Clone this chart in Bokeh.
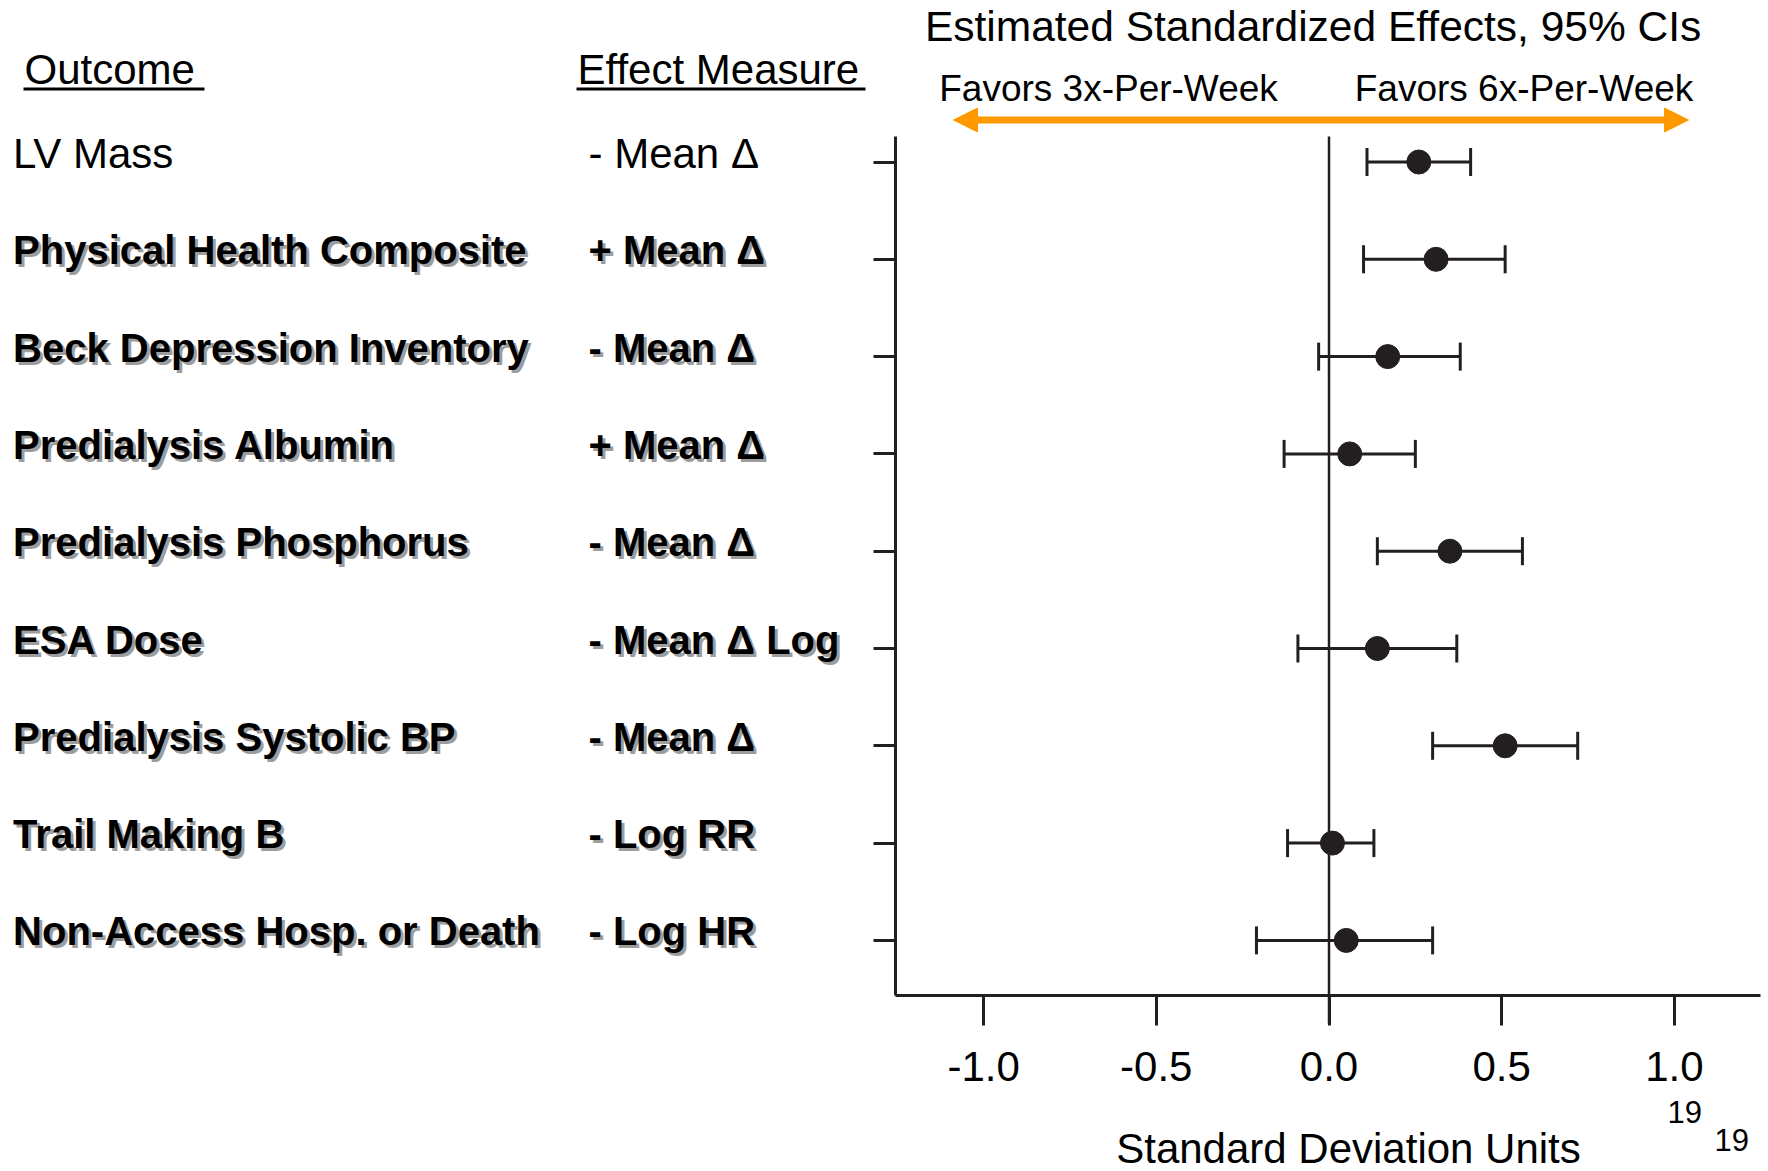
from bokeh.plotting import figure
from bokeh.models import (Range1d, LinearAxis, FixedTicker, NumeralTickFormatter,
                          CustomJSTickFormatter, Whisker, TeeHead, Arrow, NormalHead,
                          ColumnDataSource)
from bokeh.core.properties import value
from bokeh.embed import file_html
from bokeh.resources import INLINE

# ---- data -------------------------------------------------------------
outcomes = ["LV Mass", "Physical Health Composite", "Beck Depression Inventory",
            "Predialysis Albumin", "Predialysis Phosphorus", "ESA Dose",
            "Predialysis Systolic BP", "Trail Making B", "Non-Access Hosp. or Death"]
measures = ["- Mean \u0394", "+ Mean \u0394", "- Mean \u0394", "+ Mean \u0394", "- Mean \u0394",
            "- Mean \u0394 Log", "- Mean \u0394", "- Log RR", "- Log HR"]
estimate = [0.26, 0.31, 0.17, 0.06, 0.35, 0.14, 0.51, 0.01, 0.05]
ci_low = [0.11, 0.10, -0.03, -0.13, 0.14, -0.09, 0.30, -0.12, -0.21]
ci_high = [0.41, 0.51, 0.38, 0.25, 0.56, 0.37, 0.72, 0.13, 0.30]
emphasized = [False, True, True, True, True, True, True, True, True]
x_ticks = [-1.0, -0.5, 0.0, 0.5, 1.0]

title_text = "Estimated Standardized Effects, 95% CIs"
left_note = "Favors 3x-Per-Week"
right_note = "Favors 6x-Per-Week"
x_title = "Standard Deviation Units"
page_marks = ["19", "19"]

# ---- layout: canvas pixels <-> data units -----------------------------
W, H = 1768, 1171
ZERO_PX, UNIT_PX = 1328.5, 345.4      # x = 0 position and pixels per SD unit
ROW1_PX, ROW_PX = 161.5, 97.3         # first row centre and row pitch


def dx(px):
    return (px - ZERO_PX) / UNIT_PX


def dy(px):
    return 1 + (px - ROW1_PX) / ROW_PX


INK = "#231f20"
ORANGE = "#ff9900"
SHADOW = "#7d7d7d"
FONT = value("Liberation Sans")
LIFT = -14          # baseline correction for the svg text glyphs, in pixels

rows = [i + 1 for i in range(len(outcomes))]
src = ColumnDataSource(dict(row=rows, est=estimate, lo=ci_low, hi=ci_high))

plain = [i for i, e in enumerate(emphasized) if not e]
bold = [i for i, e in enumerate(emphasized) if e]

p = figure(width=W, height=H, x_range=Range1d(dx(0), dx(W)),
           y_range=Range1d(dy(H), dy(0)), x_axis_type=None, y_axis_type=None,
           toolbar_location=None, output_backend="svg", min_border=0,
           outline_line_color=None, background_fill_color="white",
           border_fill_color="white")

# ---- axes ---------------------------------------------------------------
AXIS_Y = dy(995)
AXIS_X = dx(895)

xaxis = LinearAxis(fixed_location=AXIS_Y, bounds=(AXIS_X, dx(1760)),
                   ticker=FixedTicker(ticks=x_ticks),
                   formatter=NumeralTickFormatter(format="0.0"),
                   major_tick_in=0, major_tick_out=30,
                   minor_tick_in=0, minor_tick_out=0,
                   axis_line_width=3, axis_line_color=INK,
                   major_tick_line_width=3, major_tick_line_color=INK,
                   major_label_text_font="Liberation Sans",
                   major_label_text_font_size="42px",
                   major_label_text_color="black",
                   major_label_standoff=26)
p.add_layout(xaxis, "below")

yaxis = LinearAxis(fixed_location=AXIS_X, bounds=(dy(136), AXIS_Y),
                   ticker=FixedTicker(ticks=rows),
                   formatter=CustomJSTickFormatter(code="return ''"),
                   major_tick_in=0, major_tick_out=22,
                   minor_tick_in=0, minor_tick_out=0,
                   axis_line_width=3, axis_line_color=INK,
                   major_tick_line_width=3, major_tick_line_color=INK,
                   major_label_text_font_size="0px")
p.add_layout(yaxis, "left")

# no-effect reference line
p.segment(x0=[0.0], y0=[dy(136)], x1=[0.0], y1=[dy(1023)],
          line_color=INK, line_width=2.5)

# ---- confidence intervals and estimates --------------------------------
p.add_layout(Whisker(source=src, base="row", lower="lo", upper="hi",
                     dimension="width", line_color=INK, line_width=3,
                     lower_head=TeeHead(size=28, line_color=INK, line_width=3),
                     upper_head=TeeHead(size=28, line_color=INK, line_width=3)))
p.scatter(x="est", y="row", source=src, size=24, marker="circle",
          fill_color=INK, line_color=INK)

# ---- direction arrow and headings --------------------------------------
p.add_layout(Arrow(start=NormalHead(size=24, fill_color=ORANGE, line_color=ORANGE),
                   end=NormalHead(size=24, fill_color=ORANGE, line_color=ORANGE),
                   x_start=dx(953), y_start=dy(119.5), x_end=dx(1688), y_end=dy(119.5),
                   line_color=ORANGE, line_width=7))

p.text(x=[dx(1312.6)], y=[dy(40)], text=[title_text], text_font=FONT,
       text_font_size="42.5px", text_align="center", text_baseline="alphabetic",
       y_offset=LIFT, text_color="black")
p.text(x=[dx(1108), dx(1523.5)], y=[dy(101.7), dy(101.7)],
       text=[left_note, right_note], text_font=FONT, text_font_size="37px",
       text_align="center", text_baseline="alphabetic", y_offset=LIFT,
       text_color="black")

# column headings with underlines
p.text(x=[dx(24), dx(577)], y=[dy(83.3), dy(83.3)], text=["Outcome", "Effect Measure"],
       text_font=FONT, text_font_size="42px", text_baseline="alphabetic",
       y_offset=LIFT, text_color="black")
p.segment(x0=[dx(23), dx(576)], y0=[dy(88.5), dy(88.5)],
          x1=[dx(204), dx(865)], y1=[dy(88.5), dy(88.5)],
          line_color="black", line_width=3)

# ---- row labels ---------------------------------------------------------
OUT_X, MEAS_X = dx(12.6), dx(588)
BASE_SHIFT = 5 + LIFT

# plain rows
p.text(x=[OUT_X] * len(plain), y=[rows[i] for i in plain],
       text=[outcomes[i] for i in plain], text_font=FONT, text_font_size="42px",
       text_baseline="alphabetic", y_offset=BASE_SHIFT, text_color="black")
p.text(x=[MEAS_X] * len(plain), y=[rows[i] for i in plain],
       text=[measures[i] for i in plain], text_font=FONT, text_font_size="42px",
       text_baseline="alphabetic", y_offset=BASE_SHIFT, text_color="black")

# emphasised rows: bold with a drop shadow
for col_x, labels in ((OUT_X, outcomes), (MEAS_X, measures)):
    ys = [rows[i] for i in bold]
    txt = [labels[i] for i in bold]
    p.text(x=[col_x] * len(bold), y=ys, text=txt, text_font=FONT,
           text_font_size="40px", text_font_style="bold", text_baseline="alphabetic",
           x_offset=3, y_offset=BASE_SHIFT + 3, text_color=SHADOW, text_alpha=0.75)
    p.text(x=[col_x] * len(bold), y=ys, text=txt, text_font=FONT,
           text_font_size="40px", text_font_style="bold", text_baseline="alphabetic",
           y_offset=BASE_SHIFT, text_color="black")

# ---- axis title and page marks ----------------------------------------
p.text(x=[dx(1348)], y=[dy(1162)], text=[x_title], text_font=FONT,
       text_font_size="42px", text_align="center", text_baseline="alphabetic",
       y_offset=LIFT, text_color="black")
p.text(x=[dx(1667), dx(1714)], y=[dy(1125), dy(1153)], text=page_marks,
       text_font=FONT, text_font_size="31px", text_baseline="alphabetic",
       y_offset=LIFT, text_color="black")

open("out.html", "w").write(file_html(p, INLINE))
